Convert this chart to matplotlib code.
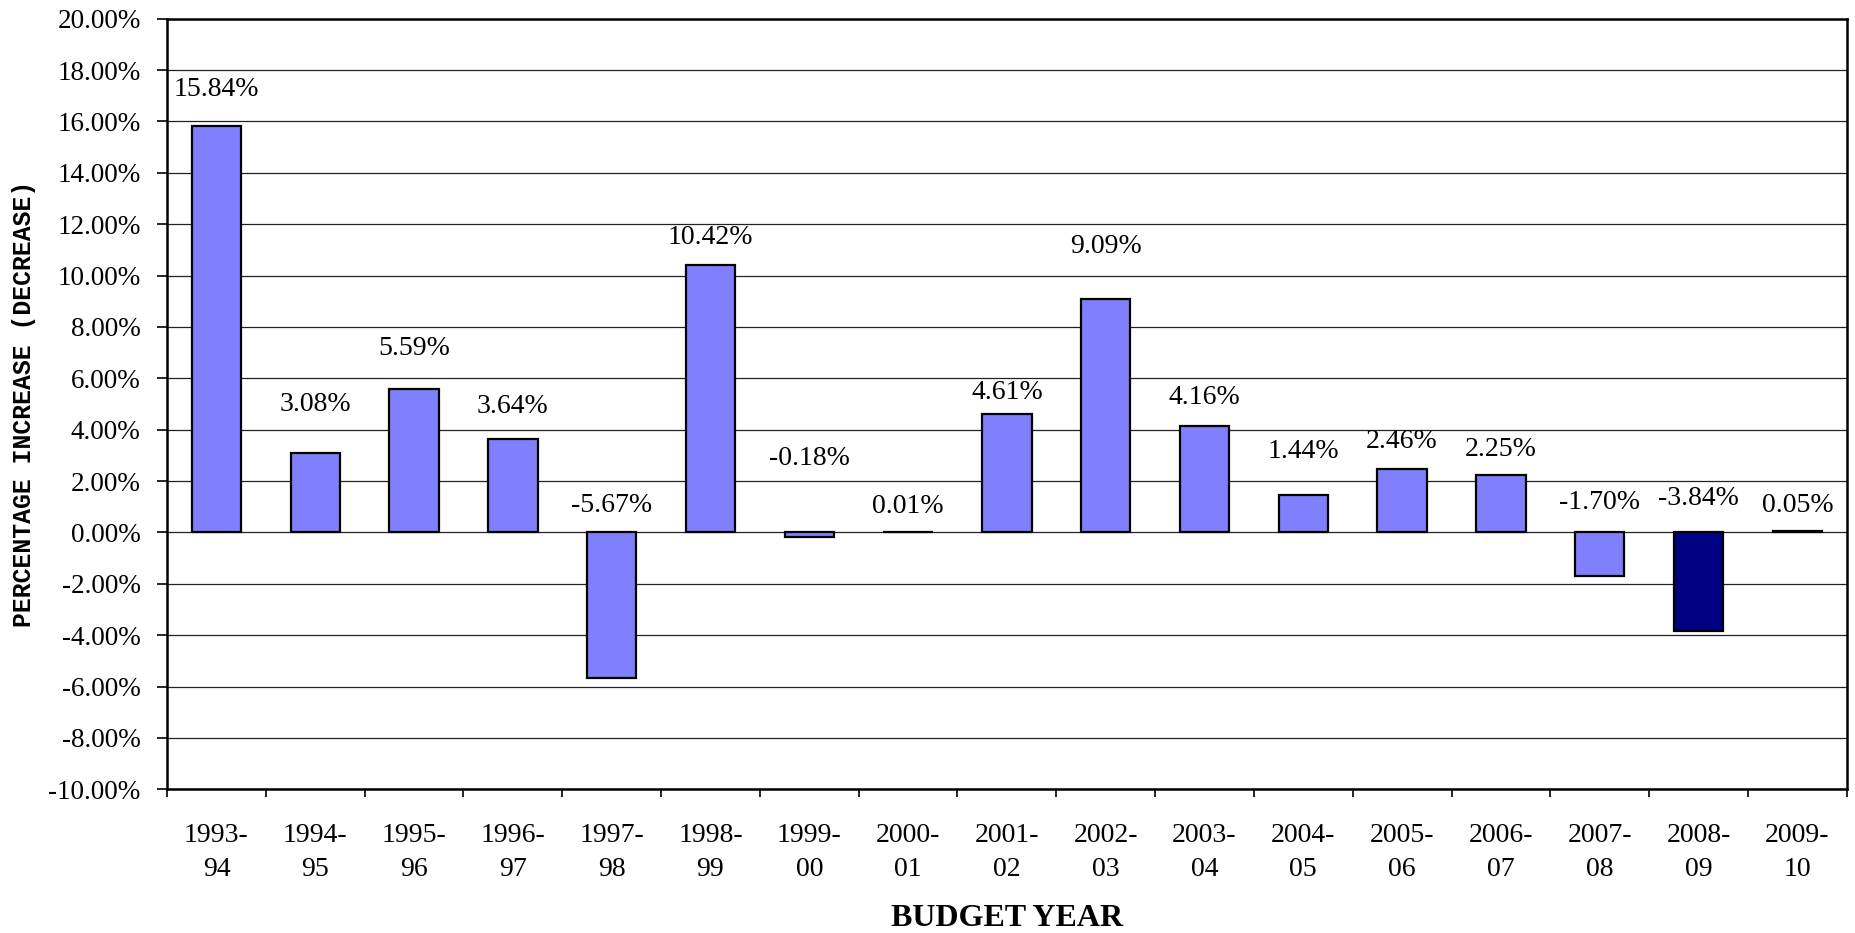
import matplotlib
matplotlib.use("Agg")
import matplotlib.pyplot as plt
from matplotlib.ticker import FuncFormatter, MultipleLocator

# =============================================================================
# Dados
# =============================================================================

anos = ["1993-\n94", "1994-\n95", "1995-\n96", "1996-\n97", "1997-\n98", "1998-\n99",
        "1999-\n00", "2000-\n01", "2001-\n02", "2002-\n03", "2003-\n04", "2004-\n05",
        "2005-\n06", "2006-\n07", "2007-\n08", "2008-\n09", "2009-\n10"]

variacao = [15.84, 3.08, 5.59, 3.64, -5.67, 10.42, -0.18, 0.01, 4.61, 9.09,
            4.16, 1.44, 2.46, 2.25, -1.70, -3.84, 0.05]

# altura (em %) onde cada rotulo foi colocado no grafico original
altura_rotulo = [17.26, 4.98, 7.15, 4.89, 1.06, 11.49, 2.86, 1.02, 5.45, 11.12,
                 5.26, 3.14, 3.55, 3.23, 1.15, 1.34, 1.06]

ano_destaque = "2008-\n09"

# =============================================================================
# Grafico
# =============================================================================

serif = ["Liberation Serif", "DejaVu Serif"]

fig = plt.figure(figsize=(18.56, 9.33), dpi=100)
ax = fig.add_axes([0.090, 0.154, 0.905, 0.826])

cores = ["#000080" if a == ano_destaque else "#8080FF" for a in anos]
x = list(range(len(anos)))
ax.bar(x, variacao, width=0.5, color=cores, edgecolor="black", linewidth=1.6, zorder=3)

for xi, v, h in zip(x, variacao, altura_rotulo):
    ax.text(xi, h, f"{v:.2f}%", ha="center", va="center", fontsize=20,
            family=serif, zorder=4)

ax.set_xlim(-0.5, len(anos) - 0.5)
ax.set_ylim(-10, 20)
ax.yaxis.set_major_locator(MultipleLocator(2))
ax.yaxis.set_major_formatter(FuncFormatter(lambda v, p: f"{v:.2f}%"))
ax.grid(axis="y", color="#222222", linewidth=0.9, zorder=0)

# ticks do eixo x entre as categorias, rotulos no centro
ax.set_xticks([i - 0.5 for i in range(len(anos) + 1)])
ax.set_xticklabels([])
ax.set_xticks(x, minor=True)
ax.set_xticklabels(anos, minor=True, family=serif, fontsize=20, linespacing=1.5)
ax.tick_params(axis="x", which="major", length=6, width=1.2, direction="out")
ax.tick_params(axis="x", which="minor", length=0, pad=24)
ax.tick_params(axis="y", length=7, width=1.2, pad=12, labelsize=19.5)
for lbl in ax.get_yticklabels():
    lbl.set_family(serif)

for lado in ["left", "bottom", "top", "right"]:
    ax.spines[lado].set_linewidth(1.8)
    ax.spines[lado].set_color("black")
ax.spines["bottom"].set_zorder(5)

ax.set_xlabel("BUDGET YEAR", family=serif, fontsize=23, fontweight="bold", labelpad=16)
fig.text(0.013, 0.567, "PERCENTAGE INCREASE (DECREASE)", rotation=90, ha="center",
         va="center", family=["Liberation Mono", "DejaVu Sans Mono"], fontweight="bold",
         fontsize=17.8)

fig.savefig("out.png", dpi=100)
plt.close(fig)
